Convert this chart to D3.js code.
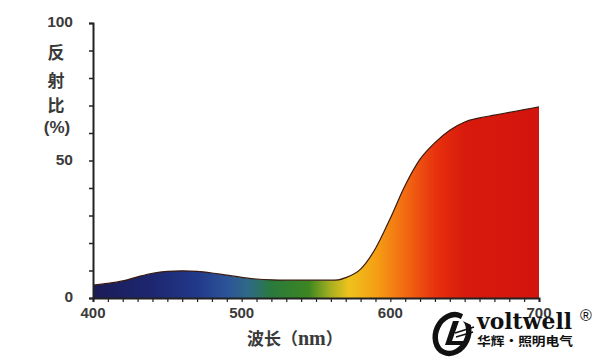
<!DOCTYPE html>
<html><head><meta charset="utf-8">
<script src="https://cdn.jsdelivr.net/npm/d3@7"></script>
<style>body{margin:0;background:#fff}svg{display:block}</style>
</head><body>
<script>
const wavelengths = [400,410,420,430,440,450,460,470,480,490,500,510,520,530,540,550,560,565,570,580,590,600,610,620,630,640,650,660,670,680,690,700];
const reflectance = [4.7,5.3,6.2,7.7,9.0,9.7,9.9,9.7,9.1,8.3,7.5,6.9,6.6,6.5,6.5,6.5,6.5,6.6,7.4,10.5,18,29,41,50.5,56.5,61,64,65.5,66.5,67.5,68.5,69.5];
const xTickLabels = [400,500,600,700];
const yTickLabels = [0,50,100];
const gradStops = [
  [400,"#1b1c58"],[440,"#1d2770"],[470,"#22398a"],[490,"#2c5498"],[505,"#2f6a86"],
  [520,"#2a7a3c"],[545,"#3c8622"],[560,"#a8b020"],[572,"#eec21c"],[590,"#f5a014"],
  [610,"#f26a12"],[630,"#e8320e"],[650,"#d81a0c"],[700,"#d3140e"]
];

const W=600,H=360;
const svg=d3.select("body").append("svg").attr("width",W).attr("height",H);
const x=d3.scaleLinear().domain([400,700]).range([93,539]);
const y=d3.scaleLinear().domain([0,100]).range([298,23]);
const data=wavelengths.map((w,i)=>({w,v:reflectance[i]}));

const defs=svg.append("defs");
const lg=defs.append("linearGradient").attr("id","spec").attr("gradientUnits","userSpaceOnUse")
  .attr("x1",x(400)).attr("x2",x(700)).attr("y1",0).attr("y2",0);
gradStops.forEach(s=>lg.append("stop").attr("offset",(s[0]-400)/300).attr("stop-color",s[1]));

const area=d3.area().x(d=>x(d.w)).y0(y(0)).y1(d=>y(d.v)).curve(d3.curveMonotoneX);
const line=d3.line().x(d=>x(d.w)).y(d=>y(d.v)).curve(d3.curveMonotoneX);
svg.append("path").datum(data).attr("d",area).attr("fill","url(#spec)");
svg.append("path").datum(data).attr("d",line).attr("fill","none").attr("stroke","#3a1a10").attr("stroke-width",1.2);

const fontF="'Liberation Sans', Arial, sans-serif";
// Y axis
const yAxis=d3.axisLeft(y).tickValues(d3.range(0,101,10)).tickSize(4).tickFormat("");
const ga=svg.append("g").attr("transform","translate(93,0)").call(yAxis);
ga.select(".domain").attr("stroke","#222").attr("stroke-width",2);
ga.selectAll(".tick line").attr("stroke","#222").attr("stroke-width",1.5);
// X axis
const xAxis=d3.axisBottom(x).tickValues(d3.range(400,701,10)).tickSize(4).tickFormat("");
const gx=svg.append("g").attr("transform","translate(0,298)").call(xAxis);
gx.select(".domain").attr("stroke","#222").attr("stroke-width",2);
gx.selectAll(".tick line").attr("stroke","#222").attr("stroke-width",1.2);

svg.selectAll(".xl").data(xTickLabels).enter().append("text")
  .attr("x",d=>x(d)).attr("y",318).attr("text-anchor","middle")
  .attr("font-family",fontF).attr("font-weight","bold").attr("font-size",15).attr("fill","#3a3a3a").text(d=>d);
svg.selectAll(".yl").data(yTickLabels).enter().append("text")
  .attr("x",73).attr("y",d=>y(d)+4).attr("text-anchor","end")
  .attr("font-family",fontF).attr("font-weight","bold").attr("font-size",15.5).attr("fill","#3a3a3a").text(d=>d);

const cjk="'Noto Sans CJK SC', sans-serif";
const ylab=["反","射","比"];
const ylabY=[59,87,112];
ylab.forEach((c,i)=>svg.append("text").attr("x",56).attr("y",ylabY[i]).attr("text-anchor","middle")
  .attr("font-family",cjk).attr("font-weight","bold").attr("font-size",17).attr("fill","#3a3a3a").text(c));
svg.append("text").attr("x",57).attr("y",133).attr("text-anchor","middle")
  .attr("font-family",fontF).attr("font-weight","bold").attr("font-size",17).attr("fill","#3a3a3a").text("(%)");
const xt=svg.append("text").attr("x",247).attr("y",345).attr("fill","#3a3a3a").attr("font-size",17);
xt.append("tspan").attr("font-family",cjk).attr("font-weight","bold").text("波长（");
xt.append("tspan").attr("font-family","'Liberation Serif', serif").attr("font-weight","bold").attr("font-size",20).text("nm");
xt.append("tspan").attr("font-family",cjk).attr("font-weight","bold").text("）");

// logo
const lgG=svg.append("g");
lgG.append("ellipse").attr("cx",452).attr("cy",334).attr("rx",16).attr("ry",20)
  .attr("transform","rotate(25,452,334)").attr("fill","none").attr("stroke","#111").attr("stroke-width",5.5);
lgG.append("rect").attr("x",462).attr("y",313).attr("width",12).attr("height",10).attr("fill","#fff").attr("transform","rotate(25,468,318)");
lgG.append("path").attr("d","M453 321 L445 345 L466 345 L469 341 L452 341 L459 321 Z").attr("fill","#111");
lgG.append("path").attr("d","M455 333 L474 327 M456 337 L473 332").attr("fill","none").attr("stroke","#111").attr("stroke-width",1.5);
lgG.append("text").attr("x",477).attr("y",329).attr("font-family","'DejaVu Serif', serif").attr("font-weight","bold")
  .attr("font-size",23).attr("fill","#111").attr("textLength",95).attr("lengthAdjust","spacingAndGlyphs").text("voltwell");
lgG.append("text").attr("x",580).attr("y",321).attr("font-family",fontF).attr("font-size",16).attr("fill","#111").text("®");
lgG.append("text").attr("x",477).attr("y",346).attr("font-family",cjk).attr("font-weight","bold")
  .attr("font-size",12).attr("fill","#111").attr("textLength",96).attr("lengthAdjust","spacingAndGlyphs").text("华辉·照明电气");
</script>
</body></html>
